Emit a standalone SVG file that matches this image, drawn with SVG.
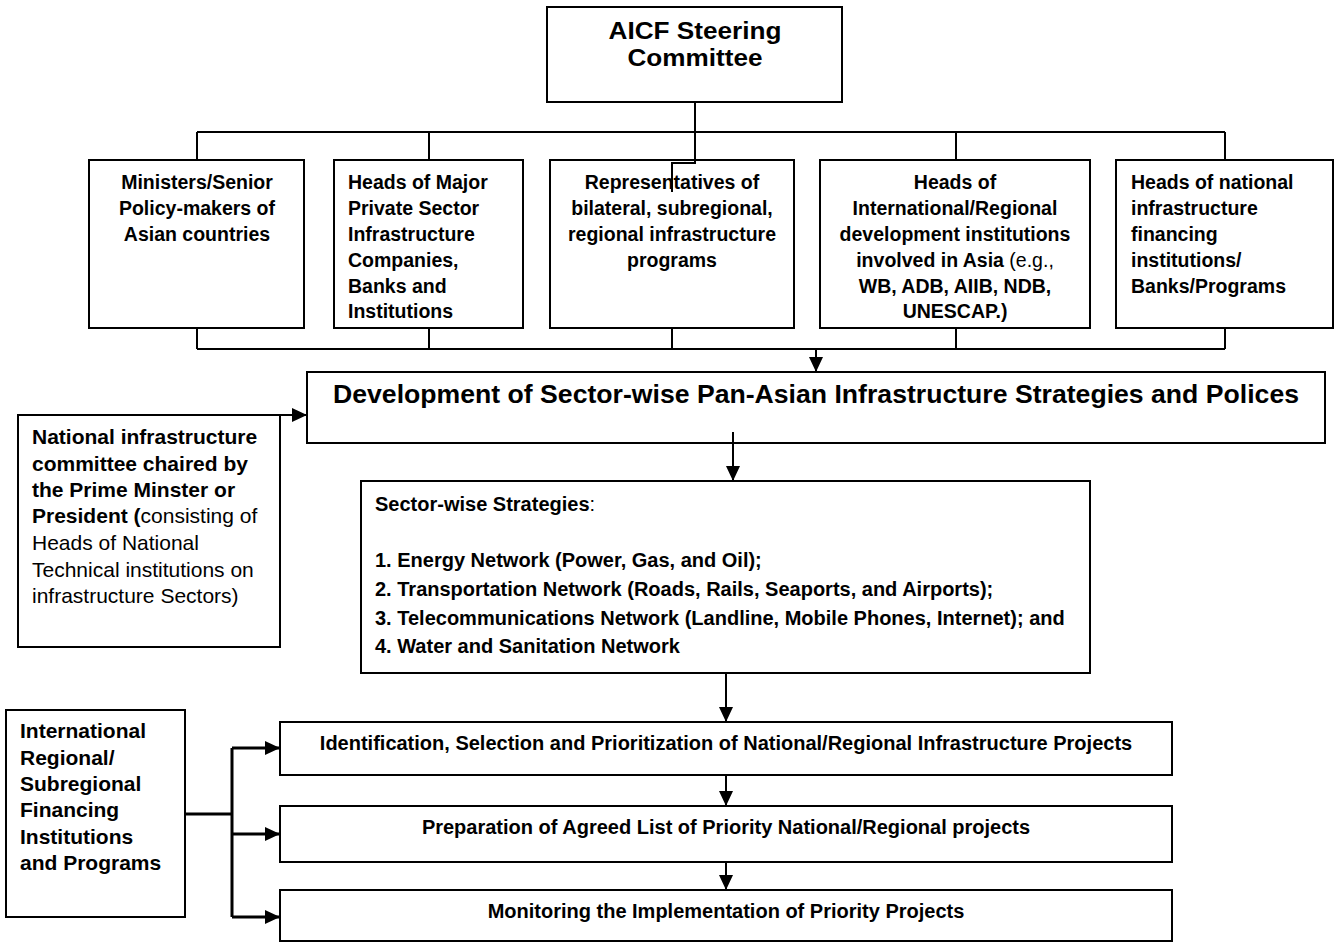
<svg xmlns="http://www.w3.org/2000/svg" width="1337" height="943" viewBox="0 0 1337 943">
<defs>
<style>
.box{fill:#fff;stroke:#000;stroke-width:2}
.c{fill:none;stroke:#000;stroke-width:2}
.ct{fill:none;stroke:#000;stroke-width:3}
text{font-family:"Liberation Sans",Arial,sans-serif;fill:#000}
.b{font-weight:bold}
.n{font-weight:normal}
.t20{font-size:19.5px}
.t21{font-size:21px}
.s20{font-size:20px}
.mid{text-anchor:middle}
</style>
<marker id="ah" viewBox="0 0 15 14" refX="15" refY="7" markerWidth="15" markerHeight="14" markerUnits="userSpaceOnUse" orient="auto"><path d="M0,0 L15,7 L0,14 z" fill="#000"/></marker>
</defs>
<rect width="1337" height="943" fill="#fff"/>

<g id="connectors">
<path class="c" d="M695,102 V163 H672 V192"/>
<path class="c" d="M197,132 H1225"/>
<path class="c" d="M197,132 V160 M429,132 V160 M956,132 V160 M1225,132 V160"/>
<path class="c" d="M197,328 V349 M429,328 V349 M672,328 V349 M956,328 V349 M1225,328 V349 M197,349 H1225"/>
<path class="c" d="M816,349 V372" marker-end="url(#ah)"/>
<path class="c" d="M280,415 H307" marker-end="url(#ah)"/>
<path class="c" d="M733,432 V481" marker-end="url(#ah)"/>
<path class="c" d="M726,673 V722" marker-end="url(#ah)"/>
<path class="c" d="M726,775 V806" marker-end="url(#ah)"/>
<path class="c" d="M726,862 V890" marker-end="url(#ah)"/>
<path class="ct" d="M185,814 H232 M232,748 V917"/>
<path class="ct" d="M232,748 H280" marker-end="url(#ah)"/>
<path class="ct" d="M232,834 H280" marker-end="url(#ah)"/>
<path class="ct" d="M232,917 H280" marker-end="url(#ah)"/>
</g>

<g id="aicf">
<rect class="box" x="547" y="7" width="295" height="95" style="fill:none"/>
<text class="b mid" x="695" y="39" font-size="23" textLength="173" lengthAdjust="spacingAndGlyphs">AICF Steering</text>
<text class="b mid" x="695" y="66" font-size="23" textLength="135" lengthAdjust="spacingAndGlyphs">Committee</text>
</g>

<g id="ministers">
<rect class="box" x="89" y="160" width="215" height="168"/>
<text class="b t20 mid" x="197" y="189">Ministers/Senior</text>
<text class="b t20 mid" x="197" y="215">Policy-makers of</text>
<text class="b t20 mid" x="197" y="241">Asian countries</text>
</g>

<g id="private">
<rect class="box" x="334" y="160" width="189" height="168"/>
<text class="b t20" x="348" y="189">Heads of Major</text>
<text class="b t20" x="348" y="215">Private Sector</text>
<text class="b t20" x="348" y="241">Infrastructure</text>
<text class="b t20" x="348" y="267">Companies,</text>
<text class="b t20" x="348" y="293">Banks and</text>
<text class="b t20" x="348" y="318">Institutions</text>
</g>

<g id="representatives">
<rect class="box" x="550" y="160" width="244" height="168" style="fill:none"/>
<text class="b t20 mid" x="672" y="189">Representatives of</text>
<text class="b t20 mid" x="672" y="215">bilateral, subregional,</text>
<text class="b t20 mid" x="672" y="241">regional infrastructure</text>
<text class="b t20 mid" x="672" y="267">programs</text>
</g>

<g id="international-heads">
<rect class="box" x="820" y="160" width="270" height="168"/>
<text class="b t20 mid" x="955" y="189">Heads of</text>
<text class="b t20 mid" x="955" y="215">International/Regional</text>
<text class="b t20 mid" x="955" y="241">development institutions</text>
<text class="b t20 mid" x="955" y="267">involved in Asia <tspan class="n">(e.g.,</tspan></text>
<text class="b t20 mid" x="955" y="293">WB, ADB, AIIB, NDB,</text>
<text class="b t20 mid" x="955" y="318">UNESCAP.)</text>
</g>

<g id="national-financing">
<rect class="box" x="1116" y="160" width="217" height="168"/>
<text class="b t20" x="1131" y="189">Heads of national</text>
<text class="b t20" x="1131" y="215">infrastructure</text>
<text class="b t20" x="1131" y="241">financing</text>
<text class="b t20" x="1131" y="267">institutions/</text>
<text class="b t20" x="1131" y="293">Banks/Programs</text>
</g>

<g id="development">
<rect class="box" x="307" y="372" width="1018" height="71" style="fill:none"/>
<text class="b mid" x="816" y="403" font-size="26" textLength="966" lengthAdjust="spacingAndGlyphs">Development of Sector-wise Pan-Asian Infrastructure Strategies and Polices</text>
</g>

<g id="national-committee">
<rect class="box" x="18" y="415" width="262" height="232"/>
<text class="b t21" x="32" y="444">National infrastructure</text>
<text class="b t21" x="32" y="471">committee chaired by</text>
<text class="b t21" x="32" y="497">the Prime Minster or</text>
<text class="b t21" x="32" y="523">President (<tspan class="n">consisting of</tspan></text>
<text class="n t21" x="32" y="550">Heads of National</text>
<text class="n t21" x="32" y="577">Technical institutions on</text>
<text class="n t21" x="32" y="603">infrastructure Sectors)</text>
</g>

<g id="sector-strategies">
<rect class="box" x="361" y="481" width="729" height="192"/>
<text class="b s20" x="375" y="511">Sector-wise Strategies<tspan class="n">:</tspan></text>
<text class="b s20" x="375" y="567">1. Energy Network (Power, Gas, and Oil);</text>
<text class="b s20" x="375" y="596">2. Transportation Network (Roads, Rails, Seaports, and Airports);</text>
<text class="b s20" x="375" y="625">3. Telecommunications Network (Landline, Mobile Phones, Internet); and</text>
<text class="b s20" x="375" y="653">4. Water and Sanitation Network</text>
</g>

<g id="intl-financing">
<rect class="box" x="6" y="710" width="179" height="207"/>
<text class="b t21" x="20" y="738">International</text>
<text class="b t21" x="20" y="765">Regional/</text>
<text class="b t21" x="20" y="791">Subregional</text>
<text class="b t21" x="20" y="817">Financing</text>
<text class="b t21" x="20" y="844">Institutions</text>
<text class="b t21" x="20" y="870">and Programs</text>
</g>

<g id="identification">
<rect class="box" x="280" y="722" width="892" height="53"/>
<text class="b s20 mid" x="726" y="750">Identification, Selection and Prioritization of National/Regional Infrastructure Projects</text>
</g>

<g id="preparation">
<rect class="box" x="280" y="806" width="892" height="56"/>
<text class="b s20 mid" x="726" y="834">Preparation of Agreed List of Priority National/Regional projects</text>
</g>

<g id="monitoring">
<rect class="box" x="280" y="890" width="892" height="51"/>
<text class="b s20 mid" x="726" y="918">Monitoring the Implementation of Priority Projects</text>
</g>
</svg>
